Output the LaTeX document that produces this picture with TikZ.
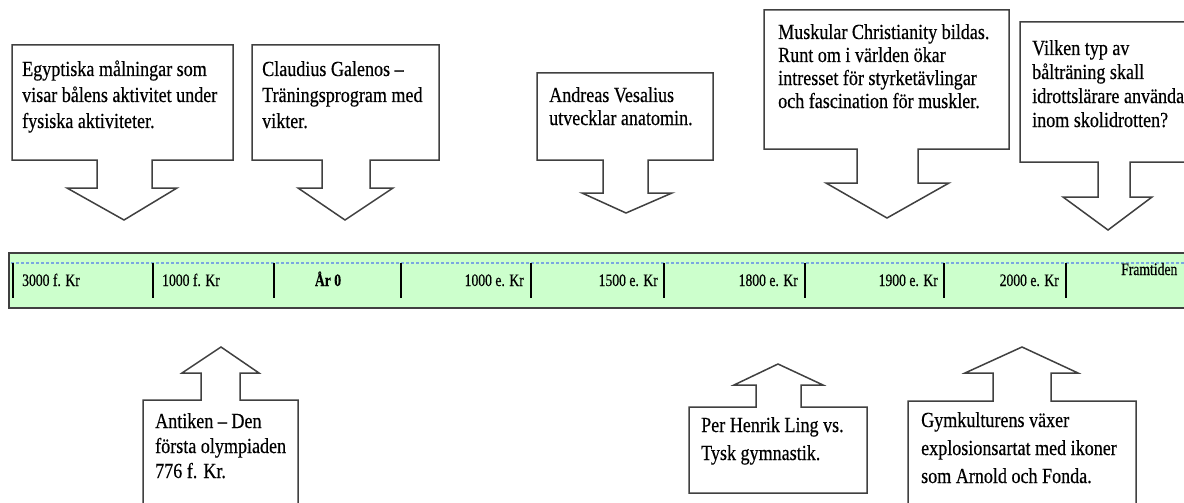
\documentclass[tikz,border=0pt]{standalone}
\usepackage{fontspec}
\setmainfont[FakeStretch=0.84,FakeBold=0.4]{Liberation Serif}
\newfontfamily\tlfont[FakeStretch=0.78,FakeBold=0.5]{Liberation Serif}
\definecolor{barfill}{HTML}{CCFFCC}
\definecolor{edge}{HTML}{404040}
\definecolor{dashblue}{HTML}{7BA7E0}
\begin{document}
\begin{tikzpicture}[x=1pt,y=-1pt,
  callout/.style={draw=edge, line width=1.5pt, fill=white, line join=miter},
  ctext/.style={anchor=base west, inner sep=0pt, font=\fontsize{21.5}{25}\selectfont},
  tltext/.style={inner sep=0pt, font=\tlfont\fontsize{17.5}{20}\selectfont},
  tickline/.style={draw=black, line width=1.5pt}]
\useasboundingbox (0,0) rectangle (1184,503);
\clip (0,0) rectangle (1184,503);
\fill[white] (0,0) rectangle (1184,503);

% timeline bar
\draw[draw=edge, line width=2pt, fill=barfill] (9,253) rectangle (1200,308);
\draw[dashblue, line width=1.2pt, dash pattern=on 3pt off 2pt] (11,263) -- (1200,263);
\foreach \x in {13,153,274,401,531,664,805,944,1066}
  \draw[tickline] (\x,263) -- (\x,298);

\node[tltext, anchor=base west] (l1) at (22,286) {3000 f. Kr};
\node[tltext, anchor=base west] (l2) at (162,286) {1000 f. Kr};
\node[tltext, anchor=base] (l3) at (328,286) {\bfseries År 0};
\node[tltext, anchor=base east] (l4) at (524,286) {1000 e. Kr};
\node[tltext, anchor=base east] (l5) at (658,286) {1500 e. Kr};
\node[tltext, anchor=base east] (l6) at (798,286) {1800 e. Kr};
\node[tltext, anchor=base east] (l7) at (938,286) {1900 e. Kr};
\node[tltext, anchor=base east] (l8) at (1059,286) {2000 e. Kr};
\node[tltext, anchor=base west] (l9) at (1121,275) {Framtiden};

% down callouts: L/T/R/B/shaftL/shaftR/shoulder/wingL/wingR/tipx/tipy
\foreach \L/\T/\R/\B/\sL/\sR/\S/\wL/\wR/\tx/\ty in {
  12/45/233/160/97/152/188/67/177/124/220,
  252/45/439/160/322/370/188/298/393/345/220,
  537/73/713/160/603/648/193/582/672/626/213,
  764/10/1009/149/857/918/183/826/949/887/218,
  1020/22/1200/162/1098/1130/197/1063/1152/1108/230}
  \draw[callout] (\L,\T) -- (\R,\T) -- (\R,\B) -- (\sR,\B) -- (\sR,\S) -- (\wR,\S)
     -- (\tx,\ty) -- (\wL,\S) -- (\sL,\S) -- (\sL,\B) -- (\L,\B) -- cycle;

% up callouts
\foreach \L/\T/\R/\B/\sL/\sR/\S/\wL/\wR/\tx/\ty in {
  143/400/298/520/201/240/373/182/259/221/347,
  689/407/867/493/756/801/385/734/823/778/364,
  908/401/1136/520/993/1051/373/965/1078/1022/347}
  \draw[callout] (\L,\B) -- (\L,\T) -- (\sL,\T) -- (\sL,\S) -- (\wL,\S) -- (\tx,\ty)
     -- (\wR,\S) -- (\sR,\S) -- (\sR,\T) -- (\R,\T) -- (\R,\B) -- cycle;

% callout texts
\foreach \t [count=\i from 0] in {Egyptiska målningar som, visar bålens aktivitet under, fysiska aktiviteter.}
  \node[ctext] (egy\i) at (22,{76+26*\i}) {\t};
\foreach \t [count=\i from 0] in {Claudius Galenos –, Träningsprogram med, vikter.}
  \node[ctext] (cla\i) at (262,{76+26*\i}) {\t};
\foreach \t [count=\i from 0] in {Andreas Vesalius, utvecklar anatomin.}
  \node[ctext] (and\i) at (549,{102+23*\i}) {\t};
\foreach \t [count=\i from 0] in {Muskular Christianity bildas., Runt om i världen ökar, intresset för styrketävlingar, och fascination för muskler.}
  \node[ctext] (mus\i) at (778,{39+23*\i}) {\t};
\foreach \t [count=\i from 0] in {Vilken typ av, bålträning skall, idrottslärare använda, inom skolidrotten?}
  \node[ctext] (vil\i) at (1032,{55+24*\i}) {\t};
\foreach \t [count=\i from 0] in {Antiken – Den, första olympiaden, 776 f. Kr.}
  \node[ctext] (ant\i) at (155,{428+25*\i}) {\t};
\foreach \t [count=\i from 0] in {Per Henrik Ling vs., Tysk gymnastik.}
  \node[ctext] (per\i) at (701,{432+28*\i}) {\t};
\foreach \t [count=\i from 0] in {Gymkulturens växer, explosionsartat med ikoner, som Arnold och Fonda.}
  \node[ctext] (gym\i) at (921,{427+28*\i}) {\t};
\end{tikzpicture}
\end{document}
